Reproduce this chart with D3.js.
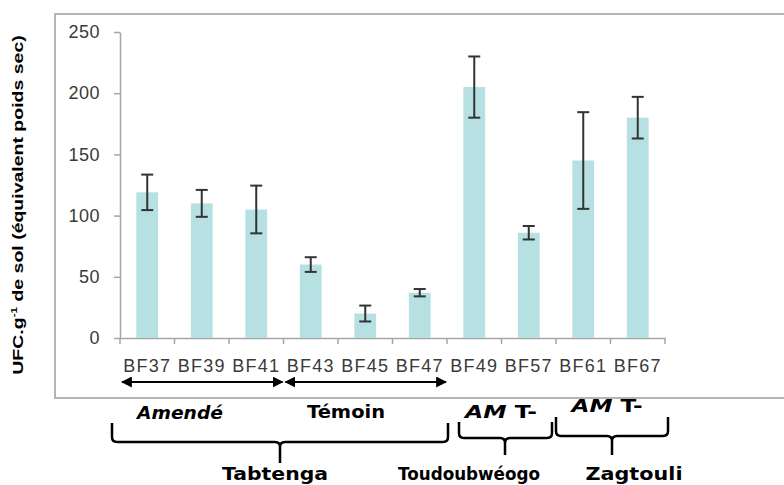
<!DOCTYPE html>
<html>
<head>
<meta charset="utf-8">
<script src="https://cdn.jsdelivr.net/npm/d3@7"></script>
<style>
  body { margin: 0; background: #fff; }
  svg { display: block; }
</style>
</head>
<body>
<div id="chart"></div>
<script>
// data
var categories = ["BF37", "BF39", "BF41", "BF43", "BF45", "BF47", "BF49", "BF57", "BF61", "BF67"];
var values = [119, 110, 105, 60, 20, 37, 205, 86, 145, 180];
var errors = [14.5, 11, 19.5, 6, 6.5, 3, 25, 5.5, 39.5, 17];
var yTicks = [0, 50, 100, 150, 200, 250];

// groups under the axis: [label, first category, last category]
var treatments = [["Amendé", "BF37", "BF41"], ["Témoin", "BF43", "BF47"]];
var sites = [
  ["Tabtenga", "BF37", "BF47", "", ""],
  ["Toudoubwéogo", "BF49", "BF57", "AM", "T-"],
  ["Zagtouli", "BF61", "BF67", "AM", "T-"]
];

var svgWidth = 784;
var svgHeight = 485;

var svg = d3.select("#chart")
  .append("svg")
  .attr("width", svgWidth)
  .attr("height", svgHeight);

var defs = svg.append("defs");
defs.append("marker")
  .attr("id", "head")
  .attr("viewBox", "0 0 10 10")
  .attr("refX", 9)
  .attr("refY", 5)
  .attr("markerWidth", 5.5)
  .attr("markerHeight", 5.5)
  .attr("orient", "auto-start-reverse")
  .append("path")
  .attr("d", "M0,0 L10,5 L0,10 Z")
  .attr("fill", "#000");

// plot frame
svg.append("rect")
  .attr("x", 55)
  .attr("y", 14)
  .attr("width", 760)
  .attr("height", 384)
  .attr("fill", "none")
  .attr("stroke", "#b4b4b4")
  .attr("stroke-width", 2);

var x = d3.scaleBand()
  .domain(categories)
  .range([120, 665])
  .paddingInner(0.6)
  .paddingOuter(0.3);

var y = d3.scaleLinear()
  .domain([0, 250])
  .range([338, 32]);

var step = x.step();
function left(c) { return x(c) + x.bandwidth() / 2 - step / 2; }
function right(c) { return x(c) + x.bandwidth() / 2 + step / 2; }
function mid(c) { return x(c) + x.bandwidth() / 2; }

// y axis
var yAxis = svg.append("g")
  .attr("transform", "translate(120,0)")
  .call(d3.axisLeft(y).tickValues(yTicks).tickSize(6).tickPadding(14).tickSizeOuter(0));
yAxis.select(".domain").attr("stroke", "#a6a6a6").attr("stroke-width", 1.5);
yAxis.selectAll(".tick line").attr("stroke", "#a6a6a6").attr("stroke-width", 1.5);
yAxis.selectAll("text")
  .attr("font-family", "Liberation Sans, Arial, sans-serif")
  .attr("font-size", 18)
  .attr("letter-spacing", 0.5)
  .attr("fill", "#3a3a3a");

// x axis
var xAxis = svg.append("g")
  .attr("transform", "translate(0,338)")
  .call(d3.axisBottom(x).tickSize(0).tickPadding(21).tickSizeOuter(0));
xAxis.select(".domain").attr("stroke", "#a6a6a6").attr("stroke-width", 1.5);
xAxis.selectAll("text")
  .attr("font-family", "Liberation Sans, Arial, sans-serif")
  .attr("font-size", 18)
  .attr("letter-spacing", 1.2)
  .attr("fill", "#3a3a3a");

// ticks between the bands
var bounds = categories.map(left).concat([right(categories[categories.length - 1])]);
svg.append("g")
  .selectAll("line")
  .data(bounds)
  .enter()
  .append("line")
  .attr("x1", d => d)
  .attr("x2", d => d)
  .attr("y1", 338)
  .attr("y2", 344)
  .attr("stroke", "#a6a6a6")
  .attr("stroke-width", 1.5);

// bars
svg.append("g")
  .selectAll("rect")
  .data(categories)
  .enter()
  .append("rect")
  .attr("x", d => x(d))
  .attr("y", (d, i) => y(values[i]))
  .attr("width", x.bandwidth())
  .attr("height", (d, i) => y(0) - y(values[i]))
  .attr("fill", "#b7e0e3");

// error bars
var errGroup = svg.append("g")
  .attr("stroke", "#333")
  .attr("stroke-width", 2);
categories.forEach(function(c, i) {
  var cx = mid(c);
  var top = y(values[i] + errors[i]);
  var bot = y(values[i] - errors[i]);
  errGroup.append("line").attr("x1", cx).attr("x2", cx).attr("y1", top).attr("y2", bot);
  errGroup.append("line").attr("x1", cx - 6).attr("x2", cx + 6).attr("y1", top).attr("y2", top);
  errGroup.append("line").attr("x1", cx - 6).attr("x2", cx + 6).attr("y1", bot).attr("y2", bot);
});

// y axis title (stretched along its length like the original)
svg.append("text")
  .attr("transform", "translate(23,205) rotate(-90) scale(1.3,1)")
  .attr("text-anchor", "middle")
  .attr("font-family", "Liberation Sans, Arial, sans-serif")
  .attr("font-weight", "bold")
  .attr("font-size", 15)
  .attr("fill", "#000")
  .html('UFC.g<tspan dy="-6" font-size="9">-1</tspan><tspan dy="6"> de sol (équivalent poids sec)</tspan>');

// treatment arrows
var annFont = "DejaVu Sans, Verdana, sans-serif";
var treatLabel = [[180, 419, 86], [346, 418, 78]];
treatments.forEach(function(t, i) {
  var x1 = left(t[1]) + 2;
  var x2 = right(t[2]) - 1;
  svg.append("line")
    .attr("x1", x1)
    .attr("x2", x2)
    .attr("y1", 382)
    .attr("y2", 382)
    .attr("stroke", "#000")
    .attr("stroke-width", 2)
    .attr("marker-start", "url(#head)")
    .attr("marker-end", "url(#head)");
  svg.append("text")
    .attr("x", treatLabel[i][0])
    .attr("y", treatLabel[i][1])
    .attr("text-anchor", "middle")
    .attr("font-family", annFont)
    .attr("font-weight", "bold")
    .attr("font-style", i === 0 ? "italic" : "normal")
    .attr("font-size", 18)
    .attr("textLength", treatLabel[i][2])
    .attr("lengthAdjust", "spacingAndGlyphs")
    .text(t[0]);
});

// site braces
function brace(x1, x2, top, bot, stemX, stemEnd) {
  var r = 5;
  return "M" + x1 + "," + top +
    " L" + x1 + "," + (bot - r) +
    " Q" + x1 + "," + bot + " " + (x1 + r) + "," + bot +
    " L" + (stemX - r) + "," + bot +
    " Q" + stemX + "," + bot + " " + stemX + "," + (bot + r) +
    " L" + stemX + "," + stemEnd +
    " M" + stemX + "," + (bot + r) +
    " Q" + stemX + "," + bot + " " + (stemX + r) + "," + bot +
    " L" + (x2 - r) + "," + bot +
    " Q" + x2 + "," + bot + " " + x2 + "," + (bot - r) +
    " L" + x2 + "," + top;
}

// brace geometry and label placement for each site
var braceBox = [
  { x1: 112, x2: 448, top: 423, bot: 442, stem: 280, stemEnd: 463 },
  { x1: 459, x2: 552, top: 422, bot: 438, stem: 505, stemEnd: 455 },
  { x1: 556, x2: 668, top: 417, bot: 436, stem: 612, stemEnd: 455 }
];
var siteLabel = [[275, 106], [469, 142], [634, 97]];
var amLabel = [null, [501, 418, 72], [607, 412, 71]];

sites.forEach(function(s, i) {
  var b = braceBox[i];
  svg.append("path")
    .attr("d", brace(b.x1, b.x2, b.top, b.bot, b.stem, b.stemEnd))
    .attr("fill", "none")
    .attr("stroke", "#000")
    .attr("stroke-width", 2.5);
  svg.append("text")
    .attr("x", siteLabel[i][0])
    .attr("y", 480)
    .attr("text-anchor", "middle")
    .attr("font-family", annFont)
    .attr("font-weight", "bold")
    .attr("font-size", 18)
    .attr("textLength", siteLabel[i][1])
    .attr("lengthAdjust", "spacingAndGlyphs")
    .text(s[0]);
  if (s[3]) {
    var label = svg.append("text")
      .attr("x", amLabel[i][0])
      .attr("y", amLabel[i][1])
      .attr("text-anchor", "middle")
      .attr("font-family", annFont)
      .attr("font-weight", "bold")
      .attr("font-size", 18)
      .attr("textLength", amLabel[i][2])
      .attr("lengthAdjust", "spacingAndGlyphs");
    label.append("tspan").attr("font-style", "italic").text(s[3]);
    label.append("tspan").text(" " + s[4]);
  }
});
</script>
</body>
</html>
